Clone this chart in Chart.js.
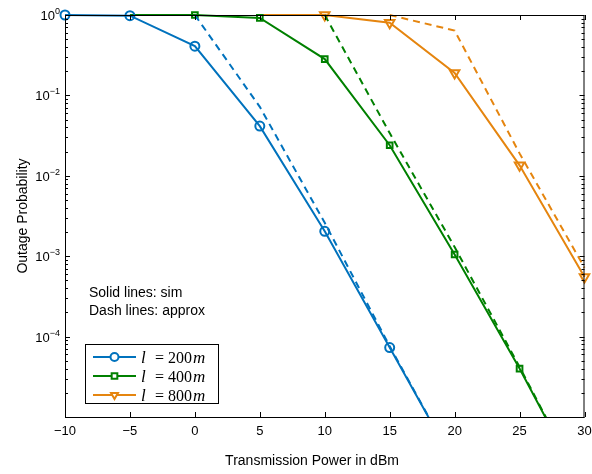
<!DOCTYPE html>
<html>
<head>
<meta charset="utf-8">
<script src="https://cdn.jsdelivr.net/npm/chart.js@4.4.1/dist/chart.umd.min.js"></script>
<style>
  html, body { margin: 0; padding: 0; background: #fff; }
  #wrap { width: 592px; height: 474px; }
</style>
</head>
<body>
<div id="wrap"><canvas id="outageChart" width="592" height="474"></canvas></div>
<script>
// valores (potencia em dBm)
const xTicks = [-10, -5, 0, 5, 10, 15, 20, 25, 30];
const yDecades = [0, -1, -2, -3, -4, -5];

const sim200X = [-10, -5, 0, 5, 10, 15, 20];
const sim200 = [1, 0.98, 0.41, 0.0415, 2.04e-3, 7.3e-5, 2.6e-6];
const approx200X = [0, 5, 10, 15, 20];
const approx200 = [1, 0.072, 2.6e-3, 7.6e-5, 2.6e-6];

const sim400X = [-5, 0, 5, 10, 15, 20, 25, 30];
const sim400 = [1, 1, 0.92, 0.283, 0.024, 1.05e-3, 4.0e-5, 1.2e-6];
const approx400X = [10, 15, 20, 25, 30];
const approx400 = [1, 0.034, 1.3e-3, 4.2e-5, 1.2e-6];

const sim800X = [5, 10, 15, 20, 25, 30];
const sim800 = [1, 1, 0.8, 0.19, 0.0135, 5.5e-4];
const approx800X = [15, 20, 25, 30];
const approx800 = [1, 0.64, 0.019, 7.2e-4];

const legendLabels = ['200', '400', '800'];

const blue = '#0072BD';
const green = '#008000';
const orange = '#E5850F';
const clipArea = { left: 10, top: 10, right: 10, bottom: 0 };

function toPoints(xs, ys) {
  return xs.map((x, i) => ({ x: x, y: ys[i] }));
}

function simSet(xs, ys, color, style, radius) {
  return {
    data: toPoints(xs, ys),
    borderColor: color,
    borderWidth: 2,
    pointStyle: style.name,
    pointRotation: style.rot,
    pointRadius: radius,
    pointBorderColor: color,
    pointBorderWidth: 2,
    pointBackgroundColor: 'rgba(0,0,0,0)',
    tension: 0,
    clip: clipArea
  };
}

function approxSet(xs, ys, color) {
  return {
    data: toPoints(xs, ys),
    borderColor: color,
    borderWidth: 2,
    borderDash: [7, 5],
    pointRadius: 0,
    tension: 0,
    clip: clipArea
  };
}

const circle = { name: 'circle', rot: 0 };
const square = { name: 'rect', rot: 0 };
const triDown = { name: 'triangle', rot: 180 };

// desenha moldura, marcas internas, rotulos 10^n, texto e legenda
const decorPlugin = {
  id: 'decor',
  afterDraw(chart) {
    const ctx = chart.ctx;
    const a = chart.chartArea;
    const xs = chart.scales.x;
    const ys = chart.scales.y;
    ctx.save();
    ctx.strokeStyle = '#000';
    ctx.lineWidth = 1;
    ctx.strokeRect(a.left + 0.5, a.top + 0.5, a.right - a.left - 1, a.bottom - a.top);

    ctx.beginPath();
    xTicks.forEach(v => {
      const px = Math.round(xs.getPixelForValue(v)) + 0.5;
      ctx.moveTo(px, a.bottom); ctx.lineTo(px, a.bottom - 5);
      ctx.moveTo(px, a.top); ctx.lineTo(px, a.top + 5);
    });
    yDecades.forEach(d => {
      for (let m = 1; m <= 9; m++) {
        const v = m * Math.pow(10, d);
        if (v > 1 || v < 1e-5) continue;
        const py = Math.round(ys.getPixelForValue(v)) + 0.5;
        const len = m === 1 ? 5 : 3;
        ctx.moveTo(a.left, py); ctx.lineTo(a.left + len, py);
        ctx.moveTo(a.right, py); ctx.lineTo(a.right - len, py);
      }
    });
    ctx.stroke();

    // rotulos do eixo y
    ctx.fillStyle = '#000';
    ctx.textBaseline = 'alphabetic';
    yDecades.forEach(d => {
      if (d === -5) return;
      const py = ys.getPixelForValue(Math.pow(10, d));
      const sup = d === 0 ? '0' : '\u2212' + (-d);
      ctx.font = '9px "Liberation Sans", Arial, sans-serif';
      const sw = ctx.measureText(sup).width;
      ctx.textAlign = 'left';
      const right = a.left - 5;
      ctx.fillText(sup, right - sw, py - 1);
      ctx.font = '13px "Liberation Sans", Arial, sans-serif';
      ctx.textAlign = 'right';
      ctx.fillText('10', right - sw, py + 5);
    });

    // titulos dos eixos
    ctx.font = '14px "Liberation Sans", Arial, sans-serif';
    ctx.textAlign = 'center';
    ctx.fillText('Transmission Power in dBm', 312, 465);
    ctx.save();
    ctx.translate(27, 216);
    ctx.rotate(-Math.PI / 2);
    ctx.fillText('Outage Probability', 0, 0);
    ctx.restore();

    // anotacao
    ctx.textAlign = 'left';
    ctx.fillText('Solid lines: sim', 89, 297);
    ctx.fillText('Dash lines: approx', 89, 315);

    // legenda
    ctx.fillStyle = '#fff';
    ctx.fillRect(85, 344, 133, 59);
    ctx.strokeStyle = '#000';
    ctx.strokeRect(85.5, 344.5, 133, 59);
    const colors = [blue, green, orange];
    const styles = [circle, square, triDown];
    const serif = '"Liberation Serif", "DejaVu Serif", serif';
    legendLabels.forEach((lab, i) => {
      const y = 357 + i * 19;
      ctx.strokeStyle = colors[i];
      ctx.lineWidth = 2;
      ctx.beginPath();
      ctx.moveTo(93, y); ctx.lineTo(136, y);
      ctx.stroke();
      ctx.fillStyle = '#fff';
      Chart.helpers.drawPoint(ctx, {
        pointStyle: styles[i].name, rotation: styles[i].rot,
        radius: 4, borderWidth: 1.5
      }, 114.5, y);
      ctx.fillStyle = '#000';
      const by = y + 6;
      ctx.font = 'italic 17px ' + serif;
      ctx.fillText('l', 141, by);
      ctx.font = '16px ' + serif;
      ctx.fillText('=', 155, by);
      ctx.fillText(lab, 168, by);
      ctx.font = 'italic 17px ' + serif;
      ctx.fillText('m', 193, by);
    });
    ctx.restore();
  }
};

const outageChart = new Chart(document.getElementById('outageChart'), {
  type: 'line',
  data: {
    datasets: [
      simSet(sim200X, sim200, blue, circle, 4.5),
      approxSet(approx200X, approx200, blue),
      simSet(sim400X, sim400, green, square, [0, 4, 4, 4, 4, 4, 4, 4]),
      approxSet(approx400X, approx400, green),
      simSet(sim800X, sim800, orange, triDown, [0, 5.5, 5.5, 5.5, 5.5, 5.5]),
      approxSet(approx800X, approx800, orange)
    ]
  },
  options: {
    responsive: false,
    animation: false,
    layout: { padding: { top: 15, right: 4, left: 0, bottom: 0 } },
    plugins: {
      legend: { display: false },
      tooltip: { enabled: false }
    },
    scales: {
      x: {
        type: 'linear',
        min: -10,
        max: 30,
        afterBuildTicks: scale => { scale.ticks = xTicks.map(v => ({ value: v })); },
        afterFit: scale => {
          scale.height = 57;
          scale.paddingLeft = 0;
          scale.paddingRight = 0;
        },
        grid: { display: false, drawTicks: false },
        border: { display: false },
        ticks: {
          color: '#000',
          padding: 7,
          maxRotation: 0,
          font: { family: '"Liberation Sans", Arial, sans-serif', size: 13 },
          callback: v => String(v).replace('-', '\u2212')
        }
      },
      y: {
        type: 'logarithmic',
        min: 1e-5,
        max: 1,
        afterFit: scale => { scale.width = 65; },
        grid: { display: false, drawTicks: false },
        border: { display: false },
        ticks: { display: false }
      }
    }
  },
  plugins: [decorPlugin]
});
</script>
</body>
</html>
